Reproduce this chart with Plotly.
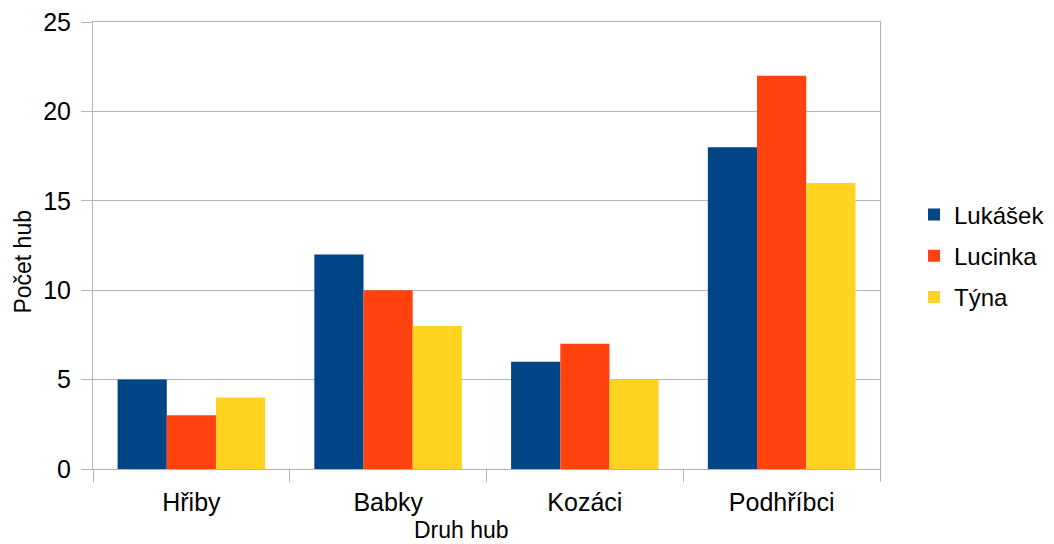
import plotly.graph_objects as go

categories = ["Hřiby", "Babky", "Kozáci", "Podhříbci"]
lukasek = [5, 12, 6, 18]
lucinka = [3, 10, 7, 22]
tyna = [4, 8, 5, 16]
series_names = ["Lukášek", "Lucinka", "Týna"]
colors = ["#004586", "#ff420e", "#ffd320"]

fig = go.Figure()
for i, (name, vals) in enumerate(zip(series_names, [lukasek, lucinka, tyna])):
    fig.add_trace(go.Bar(x=categories, y=vals, name=name, marker_color=colors[i],
                         marker_line_width=0, legendgroup=name))

font = "Liberation Sans, Arial, sans-serif"
fig.update_layout(
    width=1046, height=536,
    margin=dict(l=85, r=174, t=14, b=75, autoexpand=False),
    paper_bgcolor="white", plot_bgcolor="white",
    barmode="group", bargap=0.25, bargroupgap=0,
    font=dict(family=font, color="black"),
    showlegend=True,
    legend=dict(x=1.0432, y=0.4765, xanchor="left", yanchor="middle",
                font=dict(size=24, family=font), tracegroupgap=7,
                itemwidth=30, borderwidth=0),
    xaxis=dict(tickfont=dict(size=25), showline=True, linecolor="#b3b3b3", linewidth=1,
               mirror=True, ticks="outside", ticklen=12, tickcolor="#b3b3b3",
               tickson="boundaries", showgrid=False, ticklabelstandoff=11,
               automargin=False),
    yaxis=dict(range=[0, 25], dtick=5, tickfont=dict(size=25), showline=True,
               linecolor="#b3b3b3", linewidth=1, mirror=True, ticks="outside",
               ticklen=11, tickcolor="#b3b3b3", gridcolor="#b3b3b3", gridwidth=1,
               zeroline=False, ticklabelstandoff=5, ticklabeloverflow="allow",
               automargin=False),
)
fig.add_annotation(text="Počet hub", x=-0.0895, y=0.463, xref="paper", yref="paper",
                   xanchor="center", yanchor="middle", showarrow=False, textangle=-90,
                   font=dict(size=23, family=font), borderpad=0)
fig.add_annotation(text="Druh hub", x=0.4676, y=-0.137, xref="paper", yref="paper",
                   xanchor="center", yanchor="middle", showarrow=False,
                   font=dict(size=23, family=font), borderpad=0)
fig.write_html("out.html")
